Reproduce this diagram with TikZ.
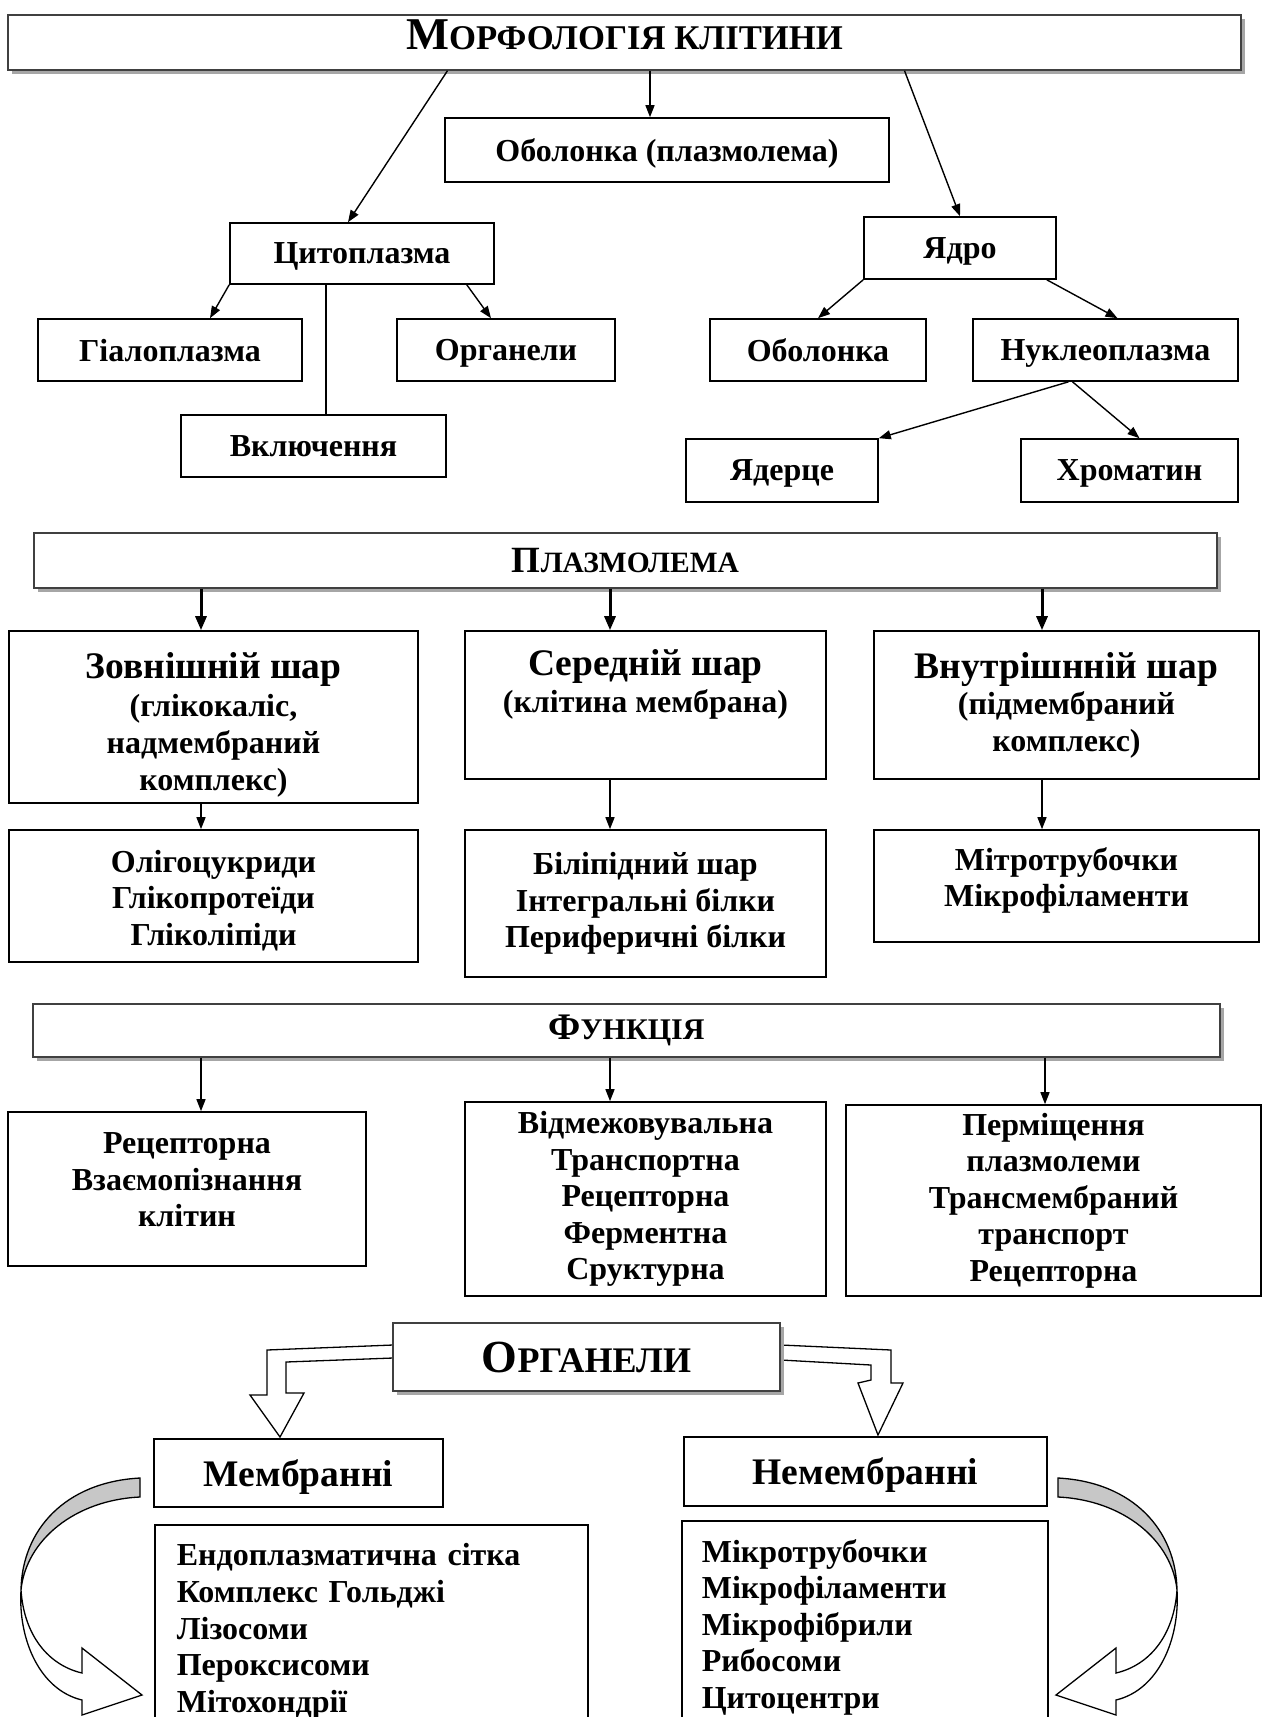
\documentclass[tikz,border=0pt]{standalone}
\usepackage{fontspec}
\setmainfont{Liberation Serif}
\usetikzlibrary{arrows.meta,shadows}

\newcommand\lbl{\bfseries\fontsize{32}{36.6}\selectfont}
\newcommand\hdr{\bfseries\fontsize{37.5}{39}\selectfont}
\newcommand\smcaps[4]{{\fontsize{#1}{#1}\selectfont #3}{\fontsize{#2}{#2}\selectfont #4}}

\begin{document}
\begin{tikzpicture}[x=1pt,y=-1pt,
  box/.style={draw,line width=1.6pt,fill=white,align=center,inner sep=0pt,font=\lbl},
  onebox/.style={box,text depth=0pt},
  headbox/.style={draw=black!75,line width=1.4pt,fill=white,inner sep=0pt,font=\bfseries,
    drop shadow={shadow xshift=4pt,shadow yshift=-4pt,fill=black!35,opacity=1}},
  arr/.style={line width=1.4pt,-{Triangle[length=12pt,width=9pt]}},
  thickarr/.style={line width=3pt,-{Triangle[length=14pt,width=11pt]}},
  blockarr/.style={draw,line width=1.3pt,fill=white,line join=miter}]
\useasboundingbox (0,0) rectangle (1263,1717);
\clip (0,0) rectangle (1263,1717);

\node[headbox, text depth=15.5pt, minimum width=1233, minimum height=55] (morph) at (624.5,42.5) {\smcaps{45.5}{34.7}{М}{ОРФОЛОГІЯ КЛІТИНИ}};
\node[onebox, minimum width=444, minimum height=64] (plmem) at (667,150) {Оболонка (плазмолема)};
\node[onebox, minimum width=264, minimum height=61] (cyto) at (362,253.5) {Цитоплазма};
\node[onebox, minimum width=264, minimum height=62] (hyal) at (170,350) {Гіалоплазма};
\node[onebox, minimum width=218, minimum height=62] (orgs) at (506,350) {Органели};
\node[onebox, minimum width=265, minimum height=62] (incl) at (313.5,446) {Включення};
\node[onebox, minimum width=192, minimum height=62] (nucl) at (960,248) {Ядро};
\node[onebox, minimum width=216, minimum height=62] (nenv) at (818,350) {Оболонка};
\node[onebox, minimum width=265, minimum height=62] (nplasm) at (1105.5,350) {Нуклеоплазма};
\node[onebox, minimum width=192, minimum height=63] (nucleol) at (782,470.5) {Ядерце};
\node[onebox, minimum width=217, minimum height=63] (chrom) at (1129.5,470.5) {Хроматин};

\draw[arr] ([xshift=-177pt]morph.south) -- ([xshift=-14pt]cyto.north);
\draw[arr] ([xshift=-17pt]plmem.north |- morph.south) -- ([xshift=-17pt]plmem.north);
\draw[arr] ([xshift=280pt]morph.south) -- (nucl.north);
\draw[arr] (cyto.south west) -- ([xshift=40pt]hyal.north);
\draw[arr] ([xshift=-28pt]cyto.south east) -- ([xshift=-15pt]orgs.north);
\draw[line width=1.4pt] ([xshift=-36pt]cyto.south) -- ([xshift=-36pt]cyto.south |- incl.north);
\draw[arr] (nucl.south west) -- (nenv.north);
\draw[arr] ([xshift=-10pt]nucl.south east) -- ([xshift=12pt]nplasm.north);
\draw[arr] ([xshift=-37pt]nplasm.south) -- (nucleol.north east);
\draw[arr] ([xshift=-33pt]nplasm.south) -- ([xshift=10pt]chrom.north);

\node[headbox, minimum width=1183, minimum height=55] (plasm) at (625.5,560.5) {\smcaps{37}{29.5}{П}{ЛАЗМОЛЕМА}};
\node[box, text height=153pt, minimum width=409, minimum height=172] (outer) at (213.5,717) {{\hdr Зовнішній шар}\\[2pt](глікокаліс,\\надмембраний\\комплекс)};
\node[box, minimum width=361, minimum height=148] (middle) at (645.5,705) {{\hdr Середній шар}\\(клітина мембрана)\\\strut};
\node[box, minimum width=385, minimum height=148] (inner) at (1066.5,705) {{\hdr Внутрішнній шар}\\(підмембраний\\комплекс)};
\node[box, text height=104pt, minimum width=409, minimum height=132] (oligo) at (213.5,896) {Олігоцукриди\\Глікопротеїди\\Гліколіпіди};
\node[box, minimum width=361, minimum height=147] (bilip) at (645.5,903.5) {Біліпідний шар\\Інтегральні білки\\Периферичні білки};
\node[box, text depth=17.6pt, minimum width=385, minimum height=112] (mitro) at (1066.5,886) {Мітротрубочки\\Мікрофіламенти};

\draw[thickarr] ([xshift=-12.5pt]outer.north |- plasm.south) -- ([xshift=-12.5pt]outer.north);
\draw[thickarr] ([xshift=-35.5pt]middle.north |- plasm.south) -- ([xshift=-35.5pt]middle.north);
\draw[thickarr] ([xshift=-24.5pt]inner.north |- plasm.south) -- ([xshift=-24.5pt]inner.north);
\draw[arr] ([xshift=-12.5pt]outer.south) -- ([xshift=-12.5pt]oligo.north);
\draw[arr] ([xshift=-35.5pt]middle.south) -- ([xshift=-35.5pt]bilip.north);
\draw[arr] ([xshift=-24.5pt]inner.south) -- ([xshift=-24.5pt]mitro.north);

\node[headbox, minimum width=1187, minimum height=53] (func) at (626.5,1030.5) {\smcaps{37.5}{30}{Ф}{УНКЦІЯ}};
\node[box, text depth=18.6pt, minimum width=358, minimum height=154] (recep) at (187,1189) {Рецепторна\\Взаємопізнання\\клітин};
\node[box, minimum width=361, minimum height=194] (separ) at (645.5,1199) {Відмежовувальна\\Транспортна\\Рецепторна\\Ферментна\\Сруктурна};
\node[box, minimum width=415, minimum height=191] (transp) at (1053.5,1200.5) {Перміщення\\плазмолеми\\Трансмембраний\\транспорт\\Рецепторна};

\draw[arr] ([xshift=14pt]recep.north |- func.south) -- ([xshift=14pt]recep.north);
\draw[arr] ([xshift=-35.5pt]separ.north |- func.south) -- ([xshift=-35.5pt]separ.north);
\draw[arr] ([xshift=-8.5pt]transp.north |- func.south) -- ([xshift=-8.5pt]transp.north);

\draw[blockarr] (393,1345) -- (267,1350) -- (267,1395) -- (250,1395) -- (280,1437) -- (304,1393) -- (286,1393) -- (286,1362) -- (393,1358) -- cycle;
\draw[blockarr] (781,1345) -- (891,1350) -- (891,1383) -- (903,1383) -- (878,1435) -- (858,1383) -- (871,1380) -- (871,1365) -- (781,1360) -- cycle;

\node[headbox, minimum width=387, minimum height=68] (organ) at (586.5,1357) {\smcaps{46}{36}{О}{РГАНЕЛИ}};
\node[onebox, minimum width=289, minimum height=68, font=\hdr] (membr) at (298.5,1473) {Мембранні};
\node[onebox, minimum width=363, minimum height=69, font=\hdr] (nonmembr) at (865.5,1471.5) {Немембранні};
\node[box, anchor=north west, minimum width=433, minimum height=213, inner xsep=22pt, text width=389, align=left] (mlist) at (154,1524) {Ендоплазматична сітка\\Комплекс Гольджі\\Лізосоми\\Пероксисоми\\Мітохондрії};
\node[box, anchor=north west, minimum width=366, minimum height=213, inner xsep=20pt, text width=326, align=left] (nlist) at (681,1520) {Мікротрубочки\\Мікрофіламенти\\Мікрофібрили\\Рибосоми\\Цитоцентри};

\foreach \s/\x in {1/0,-1/1198} {
\begin{scope}[xshift=\x pt, xscale=\s]
\draw[line width=1.3pt, fill=black!22] (140,1478) .. controls (65,1482) and (22,1530) .. (21,1590) .. controls (26,1540) and (75,1500) .. (140,1497) -- cycle;
\draw[line width=1.3pt, fill=white, line join=miter] (21,1590) .. controls (24,1635) and (48,1665) .. (82,1673) -- (82,1648) -- (142,1695) -- (82,1715) -- (82,1700) .. controls (40,1690) and (18,1640) .. (21,1590) -- cycle;
\end{scope}
}
\end{tikzpicture}
\end{document}
